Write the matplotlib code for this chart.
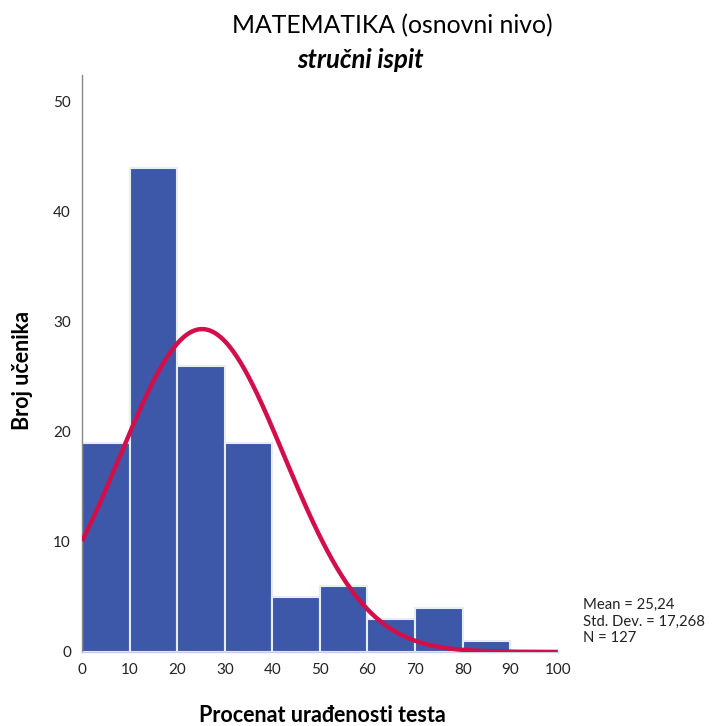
import numpy as np
import matplotlib
matplotlib.use("Agg")
import matplotlib.pyplot as plt

bin_edges = [0, 10, 20, 30, 40, 50, 60, 70, 80, 90, 100]
counts = [19, 44, 26, 19, 5, 6, 3, 4, 1, 0]
mean = 25.24
std = 17.268
n = 127
x_ticks = [0, 10, 20, 30, 40, 50, 60, 70, 80, 90, 100]
y_ticks = [0, 10, 20, 30, 40, 50]

plt.rcParams['font.family'] = ['Lato', 'DejaVu Sans']

fig = plt.figure(figsize=(7.22, 7.26), dpi=100)
ax = fig.add_axes([0.1136, 0.102, 0.659, 0.795])

lefts = bin_edges[:-1]
widths = np.diff(bin_edges)
ax.bar(lefts, counts, width=widths, align='edge', color='#3d58a8',
       edgecolor='#e8ecf5', linewidth=1.5, zorder=2)

xs = np.linspace(0, 100, 400)
bw = 10
curve = n * bw / (std * np.sqrt(2 * np.pi)) * np.exp(-0.5 * ((xs - mean) / std) ** 2)
ax.plot(xs, curve, color='#d20f4b', linewidth=3.2, zorder=3, solid_capstyle='butt')

ax.set_xlim(0, 100)
ax.set_ylim(0, 52.45)
ax.set_xticks(x_ticks)
ax.set_yticks(y_ticks)
ax.tick_params(length=0, labelsize=11, colors='#222222', pad=8)
for s in ['top', 'right']:
    ax.spines[s].set_visible(False)
ax.spines['left'].set_color('#888888')
ax.spines['left'].set_linewidth(1.0)
ax.spines['bottom'].set_color('#c8cde0')
ax.spines['bottom'].set_linewidth(1.0)

fig.text(0.543, 0.965, 'MATEMATIKA (osnovni nivo)', ha='center', va='center', fontsize=17.8)
fig.text(0.499, 0.918, 'stručni ispit', ha='center', va='center', fontsize=18.5,
         fontweight='bold', fontstyle='italic')
fig.text(0.031, 0.49, 'Broj učenika', ha='center', va='center', rotation=90,
         fontsize=15.5, fontweight='bold')
fig.text(0.446, 0.014, 'Procenat urađenosti testa', ha='center', va='center',
         fontsize=15.5, fontweight='bold')
fig.text(0.807, 0.112, 'Mean = 25,24\nStd. Dev. = 17,268\nN = 127', ha='left', va='bottom',
         fontsize=10.7, linespacing=1.2, color='#222222')

fig.savefig('out.png', dpi=100)
